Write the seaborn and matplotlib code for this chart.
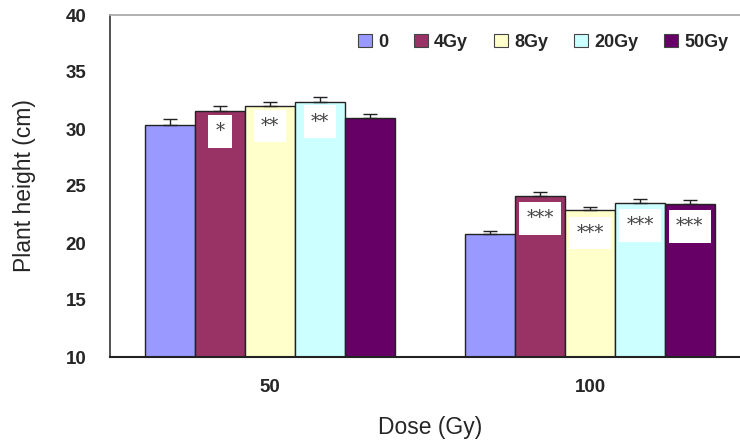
import matplotlib
matplotlib.use("Agg")
import matplotlib.pyplot as plt
import seaborn as sns
import pandas as pd
import numpy as np

# ---- data ----
doses = ["50", "100"]
treatments = ["0", "4Gy", "8Gy", "20Gy", "50Gy"]
height_50 = [30.35, 31.55, 32.0, 32.4, 30.95]
height_100 = [20.75, 24.15, 22.9, 23.55, 23.45]
err_50 = [0.5, 0.45, 0.4, 0.4, 0.4]
err_100 = [0.3, 0.35, 0.25, 0.3, 0.3]
sig_50 = ["", "*", "**", "**", ""]
sig_100 = ["", "***", "***", "***", "***"]
colors = ["#9999FF", "#993366", "#FFFFCC", "#CCFFFF", "#660066"]

rows = []
for d, hs, es, ss in [(doses[0], height_50, err_50, sig_50), (doses[1], height_100, err_100, sig_100)]:
    for t, h, e, s in zip(treatments, hs, es, ss):
        rows.append({"Dose": d, "Treatment": t, "Height": h, "Err": e, "Sig": s})
df = pd.DataFrame(rows)

sns.set_style("white")
plt.rcParams["font.family"] = ["Liberation Sans", "DejaVu Sans"]

fig = plt.figure(figsize=(7.4, 4.41), dpi=100)
ax = fig.add_axes([110 / 740, 84 / 441, 640 / 740, 342 / 441])

sns.barplot(data=df, x="Dose", y="Height", hue="Treatment", order=doses,
            hue_order=treatments, palette=colors, saturation=1, width=0.78,
            errorbar=None, edgecolor="#222222", linewidth=1.0, ax=ax, legend=True)

# error bars and significance labels from bar geometry
bars = [p for p in ax.patches if p.get_height() > 0][:len(df)]
# seaborn draws hue by hue: for each treatment, both doses
for i, t in enumerate(treatments):
    for j, d in enumerate(doses):
        p = bars[i * len(doses) + j]
        r = df[(df.Dose == d) & (df.Treatment == t)].iloc[0]
        xc = p.get_x() + p.get_width() / 2
        ax.errorbar(xc, r.Height, yerr=[[0], [r.Err]], fmt="none",
                    ecolor="#222222", elinewidth=1.0, capsize=5, capthick=1.0, zorder=5)
        if r.Sig:
            ax.text(xc, r.Height - (1.75 if d == "50" else 2.0), r.Sig,
                    ha="center", va="center", fontsize=13, color="#444444",
                    family="DejaVu Serif",
                    bbox=dict(boxstyle="square,pad=0.4", fc="white", ec="none"),
                    zorder=6)

ax.set_ylim(10, 40)
ax.set_xlim(-0.5, 1.5)
ax.set_yticks(np.arange(10, 41, 5))
ax.tick_params(axis="y", direction="in", length=6, width=1, color="#555555",
               labelsize=13.5, pad=17)
ax.tick_params(axis="x", length=0, labelsize=13.5, pad=16)
ax.set_xticks([0.5], minor=True)
ax.tick_params(axis="x", which="minor", direction="in", length=6, width=1, color="#333333")
for lbl in ax.get_yticklabels() + ax.get_xticklabels():
    lbl.set_fontweight("bold")

ax.set_xlabel("Dose (Gy)", fontsize=16.5, labelpad=14)
ax.set_ylabel("Plant height (cm)", fontsize=16.5, labelpad=21)

ax.spines["left"].set_color("#444444")
ax.spines["bottom"].set_color("#222222")
ax.spines["bottom"].set_linewidth(1.5)
ax.spines["left"].set_linewidth(1.3)
ax.spines["top"].set_color("#aaaaaa")
ax.spines["top"].set_linewidth(1.3)
ax.spines["right"].set_visible(False)

leg = ax.legend(loc="upper left", bbox_to_anchor=(0.3875, 0.945), ncol=5, frameon=False,
                borderpad=0, borderaxespad=0,
                handlelength=0.75, handleheight=0.75, handletextpad=0.35,
                columnspacing=1.45, prop={"size": 13, "weight": "bold"})
for h in leg.legend_handles:
    h.set_edgecolor("#444444")
    h.set_linewidth(0.8)

fig.savefig("out.png", dpi=100)
